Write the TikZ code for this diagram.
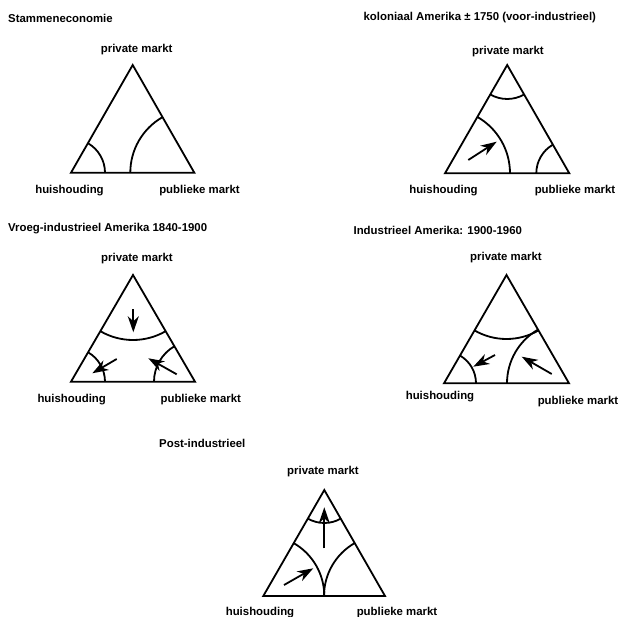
\documentclass[tikz,border=0pt]{standalone}
\usepackage{fontspec}
\setmainfont{Liberation Sans}
\usetikzlibrary{arrows.meta}
\begin{document}
\begin{tikzpicture}[x=1pt, y=1pt, line width=1.8pt,
    lbl/.style={font=\fontsize{11.4}{13}\selectfont\bfseries, inner sep=0pt},
    titel/.style={lbl, anchor=west},
    pijl/.style={-{Stealth[length=16pt, width=11pt, inset=5pt]}, line width=1.8pt}]
  \useasboundingbox (0,0) rectangle (623,617);

  % Stammeneconomie
  \node[titel] (t1) at (7.3,598.7) {Stammeneconomie};
  \coordinate (a1) at (132.7,552); \coordinate (b1) at (71,444.3); \coordinate (c1) at (194.3,444.3);
  \draw (a1) -- (b1) -- (c1) -- cycle;
  \draw ([shift={(0:34pt)}]b1) arc[start angle=0, end angle=60, radius=34pt];
  \draw ([shift={(180:64pt)}]c1) arc[start angle=180, end angle=120, radius=64pt];
  \node[lbl] (p1) at (136.7,567) {private markt};
  \node[lbl] (h1) at (69.5,426) {huishouding};
  \node[lbl] (m1) at (199.5,426) {publieke markt};

  % koloniaal Amerika
  \node[titel] (t2) at (362.7,599) {koloniaal Amerika ± 1750 (voor-industrieel)};
  \coordinate (a2) at (507.2,552); \coordinate (b2) at (445,443.7); \coordinate (c2) at (569.3,443.7);
  \draw (a2) -- (b2) -- (c2) -- cycle;
  \draw ([shift={(240:34pt)}]a2) arc[start angle=240, end angle=300, radius=34pt];
  \draw ([shift={(0:65pt)}]b2) arc[start angle=0, end angle=60, radius=65pt];
  \draw ([shift={(180:33pt)}]c2) arc[start angle=180, end angle=120, radius=33pt];
  \coordinate (s2) at (468.3,457); \coordinate (e2) at (496.7,475.3);
  \draw[pijl] (s2) -- (e2);
  \node[lbl] (p2) at (508,565) {private markt};
  \node[lbl] (h2) at (443.5,426) {huishouding};
  \node[lbl] (m2) at (575,426) {publieke markt};

  % Vroeg-industrieel Amerika
  \node[titel] (t3) at (7.3,388.7) {Vroeg-industrieel Amerika 1840-1900};
  \coordinate (a3) at (133,342); \coordinate (b3) at (71,235.3); \coordinate (c3) at (195,235.3);
  \draw (a3) -- (b3) -- (c3) -- cycle;
  \draw ([shift={(240:65pt)}]a3) arc[start angle=240, end angle=300, radius=65pt];
  \draw ([shift={(0:34pt)}]b3) arc[start angle=0, end angle=60, radius=34pt];
  \draw ([shift={(180:41pt)}]c3) arc[start angle=180, end angle=120, radius=41pt];
  \coordinate (s3a) at (133.3,307.7); \coordinate (e3a) at (133.3,284.7);
  \coordinate (s3b) at (116.7,258); \coordinate (e3b) at (92.3,243.7);
  \coordinate (s3c) at (176.7,242.7); \coordinate (e3c) at (148.3,258.7);
  \draw[pijl] (s3a) -- (e3a);
  \draw[pijl] (s3b) -- (e3b);
  \draw[pijl] (s3c) -- (e3c);
  \node[lbl] (p3) at (137,358.7) {private markt};
  \node[lbl] (h3) at (71.7,217) {huishouding};
  \node[lbl] (m3) at (200.8,217) {publieke markt};

  % Industrieel Amerika
  \node[titel] (t4) at (352.7,387) {Industrieel Amerika: 1900-1960};
  \coordinate (a4) at (506.5,342); \coordinate (b4) at (444,233.7); \coordinate (c4) at (569,233.7);
  \draw (a4) -- (b4) -- (c4) -- cycle;
  \draw ([shift={(240:64pt)}]a4) arc[start angle=240, end angle=300, radius=64pt];
  \draw ([shift={(0:32pt)}]b4) arc[start angle=0, end angle=60, radius=32pt];
  \draw ([shift={(180:62pt)}]c4) arc[start angle=180, end angle=120, radius=62pt];
  \coordinate (s4a) at (495,262); \coordinate (e4a) at (473.3,250.3);
  \coordinate (s4b) at (551.7,243); \coordinate (e4b) at (521.7,260.3);
  \draw[pijl] (s4a) -- (e4a);
  \draw[pijl] (s4b) -- (e4b);
  \node[lbl] (p4) at (506,359.3) {private markt};
  \node[lbl] (h4) at (440,220.3) {huishouding};
  \node[lbl] (m4) at (578,215.3) {publieke markt};

  % Post-industrieel
  \node[titel] (t5) at (158.3,173.7) {Post-industrieel};
  \coordinate (a5) at (324.3,127); \coordinate (b5) at (263.3,21); \coordinate (c5) at (385,21);
  \draw (a5) -- (b5) -- (c5) -- cycle;
  \draw ([shift={(240:33pt)}]a5) arc[start angle=240, end angle=300, radius=33pt];
  \draw ([shift={(0:61pt)}]b5) arc[start angle=0, end angle=60, radius=61pt];
  \draw ([shift={(180:61pt)}]c5) arc[start angle=180, end angle=120, radius=61pt];
  \coordinate (s5a) at (324.3,68.7); \coordinate (e5a) at (324.3,109.7);
  \coordinate (s5b) at (284,32); \coordinate (e5b) at (313.3,48.7);
  \draw[pijl] (s5a) -- (e5a);
  \draw[pijl] (s5b) -- (e5b);
  \node[lbl] (p5) at (323,145.3) {private markt};
  \node[lbl] (h5) at (260,4.3) {huishouding};
  \node[lbl] (m5) at (397,4.3) {publieke markt};
\end{tikzpicture}
\end{document}
